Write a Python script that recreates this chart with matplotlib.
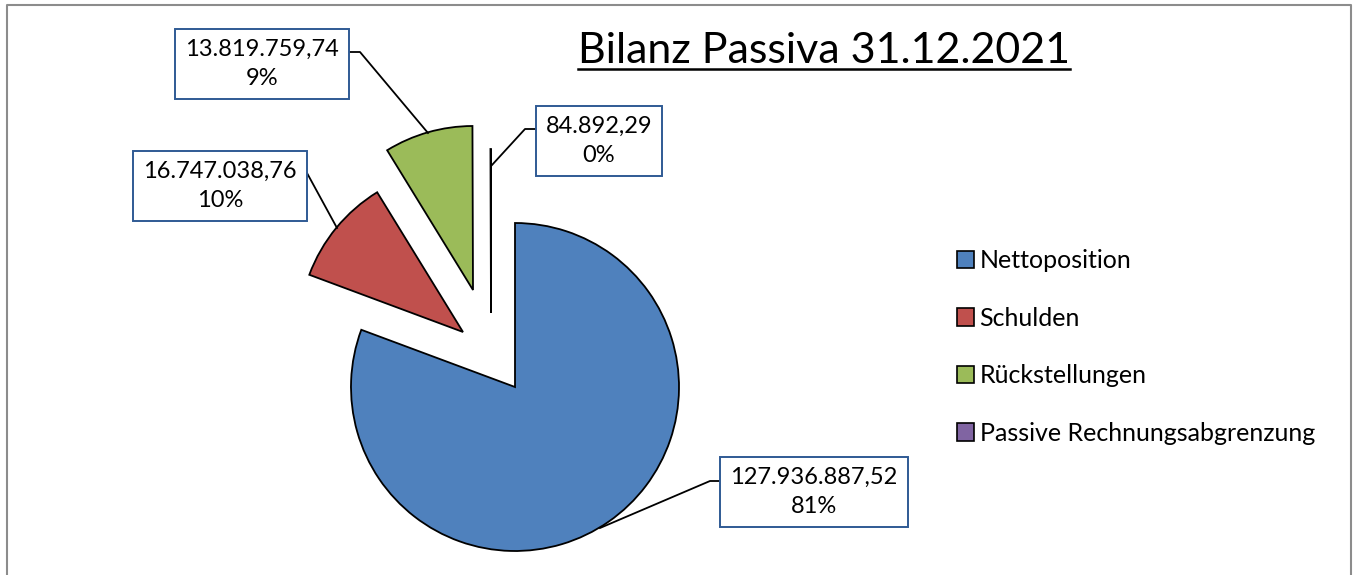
import matplotlib.pyplot as plt

plt.rcParams['font.family'] = ['Lato', 'DejaVu Sans']

categories = ["Nettoposition", "Schulden", "Rückstellungen", "Passive Rechnungsabgrenzung"]
values = [127936887.52, 16747038.76, 13819759.74, 84892.29]
pct_labels = ["81%", "10%", "9%", "0%"]
colors = ["#4F81BD", "#C0504D", "#9BBB59", "#8064A2"]
title = "Bilanz Passiva 31.12.2021"


def de_number(v):
    s = f"{v:,.2f}"
    return s.replace(",", "X").replace(".", ",").replace("X", ".")


W, H = 1357, 575
fig = plt.figure(figsize=(W / 100, H / 100), dpi=100)
ax = fig.add_axes([0, 0, 1, 1])

# pixel-like coordinates, y pointing down -> counterclock in data = clockwise on screen
center = (515, 387)
radius = 164
wedges, _ = ax.pie(values, colors=colors, startangle=-90, counterclock=True,
                   radius=radius, center=center,
                   wedgeprops=dict(edgecolor="black", linewidth=1.3))

# exploded slices (offset of the tip, in pixels)
offsets = [(0, 0), (-52, -55), (-42, -97), (-24, -74)]
for w, (dx, dy) in zip(wedges, offsets):
    w.set_center((center[0] + dx, center[1] + dy))

ax.set_xlim(0, W)
ax.set_ylim(H, 0)
ax.set_aspect('equal')
ax.axis('off')

# data labels
box_centers = [(814, 492), (220, 186), (262, 64), (599, 141)]
leaders = [
    [(600, 528), (710, 481), (721, 481)],
    [(337, 228), (307, 173)],
    [(428, 133), (360, 52), (349, 52)],
    [(492, 165), (525, 129), (537, 129)],
]
for v, p, (x, y), ld in zip(values, pct_labels, box_centers, leaders):
    xs, ys = zip(*ld)
    ax.plot(xs, ys, color="black", lw=1.3, zorder=3)
    ax.text(x, y, f"{de_number(v)}\n{p}", ha="center", va="center",
            multialignment="center", fontsize=17, linespacing=1.5, zorder=4,
            bbox=dict(boxstyle="square,pad=0.42", facecolor="white",
                      edgecolor="#2F5A94", linewidth=1.4))

# title with underline
t = ax.text(824, 63, title, ha="center", va="baseline", fontsize=31)
fig.canvas.draw()
bb = t.get_window_extent()
ax.plot([bb.x0, bb.x1], [69, 69], color="black", lw=1.8)

leg = ax.legend(wedges, categories, loc="center left",
                bbox_to_anchor=(957 / W, 1 - 347 / H), bbox_transform=fig.transFigure,
                frameon=False, fontsize=18, handlelength=0.68, handleheight=0.68,
                handletextpad=0.22, labelspacing=1.38, borderpad=0, borderaxespad=0)
for h in leg.legend_handles:
    h.set_edgecolor("black")
    h.set_linewidth(1.2)

# chart frame
ax.plot([7, 7, 1351, 1351], [H, 5, 5, H], color="#8C8C8C", lw=1.5,
        clip_on=False, zorder=5)

fig.savefig("out.png", dpi=100)
